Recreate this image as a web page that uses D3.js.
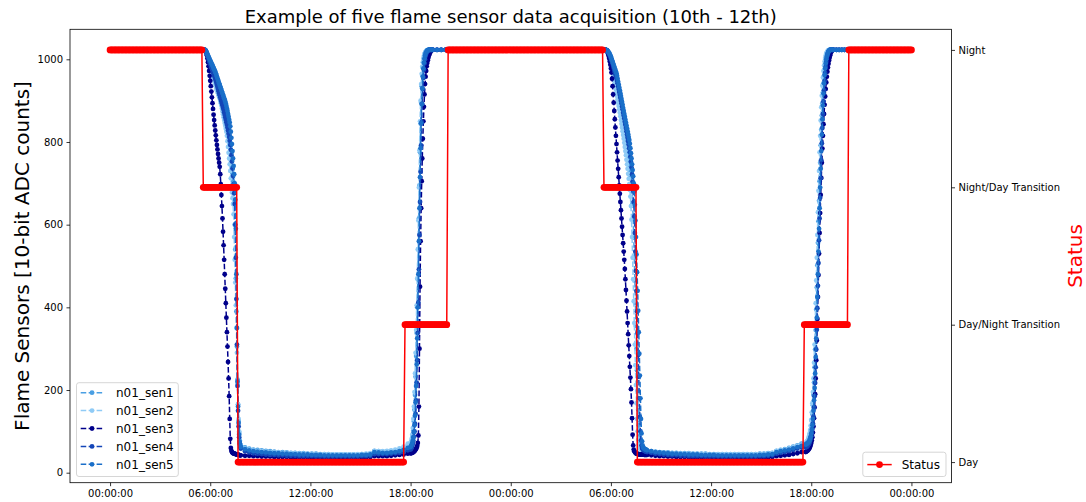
<!DOCTYPE html>
<html>
<head>
<meta charset="utf-8">
<script src="https://cdn.jsdelivr.net/npm/d3@7"></script>
<style>
  html, body { margin: 0; padding: 0; background: #ffffff; }
  svg { display: block; font-family: "DejaVu Sans", sans-serif; }
</style>
</head>
<body>
<svg id="chart" width="1086" height="502"></svg>
<script>
// Sample clock in minutes from 00:00 on the 10th (denser while the light level is changing)
const sampleMinutes = [].concat(
  d3.range(0, 340, 20),
  d3.range(340, 470, 2),
  d3.range(470, 1080, 15),
  d3.range(1080, 1160, 2),
  d3.range(1160, 1780, 15),
  d3.range(1780, 1930, 2),
  d3.range(1930, 2500, 15),
  d3.range(2500, 2600, 2),
  d3.range(2600, 2881, 10)
);

// Flame sensor readings (10-bit ADC counts), one value per sample time
const sen1 = [
  // 00:00-05:20
  1023,1023,1023,1023,1023,1023,1023,1023,1023,1023,
  1023,1023,1023,1023,1023,1023,1023,
  // 05:40-07:48
  1023,1022,1020,1017,1014,1010,1006,1002,998,994,
  989,984,979,975,971,967,963,959,955,951,
  946,941,936,931,926,921,916,911,906,901,
  896,891,886,881,876,870,864,858,852,846,
  840,832,824,815,806,796,785,772,758,742,
  724,705,684,650,600,540,470,390,305,225,
  165,125,96,78,68,
  // 07:50-17:50
  66,61,58,56,55,54,53,52,51,50,
  50,49,48,48,47,47,46,46,46,45,
  45,45,44,44,44,44,44,44,44,45,
  45,46,53,52,51,51,52,53,55,58,
  64,
  // 18:00-19:18
  64,68,72,78,88,102,124,152,188,232,
  282,338,400,468,540,615,695,775,845,895,
  935,962,980,993,1002,1009,1014,1017,1019,1021,
  1022,1022,1023,1023,1023,1023,1023,1023,1023,1023,
  // 19:20-05:35
  1023,1023,1023,1023,1023,1023,1023,1023,1023,1023,
  1023,1023,1023,1023,1023,1023,1023,1023,1023,1023,
  1023,1023,1023,1023,1023,1023,1023,1023,1023,1023,
  1023,1023,1023,1023,1023,1023,1023,1023,1023,1023,
  1023,1023,
  // 05:40-08:08
  1023,1023,1022,1021,1019,1016,1013,1010,1006,1002,
  998,993,988,983,978,972,966,960,954,948,
  942,935,928,921,914,907,900,893,885,877,
  869,861,853,845,837,829,820,811,802,793,
  784,774,764,753,742,730,716,700,680,652,
  615,570,520,465,410,355,300,248,198,152,
  115,88,72,64,60,58,57,56,55,55,
  54,54,53,53,53,
  // 08:10-17:25
  53,52,51,50,49,49,48,48,47,47,
  47,46,46,46,46,45,45,45,45,45,
  45,45,45,45,45,45,45,46,46,47,
  48,53,55,57,60,63,66,70,
  // 17:40-19:18
  70,71,72,74,76,79,83,88,94,102,
  112,125,142,163,188,218,255,298,345,395,
  448,502,556,608,658,705,750,792,830,864,
  894,920,942,960,975,987,997,1005,1011,1015,
  1018,1020,1022,1023,1023,1023,1023,1023,1023,1023,
  // 19:20-24:00
  1023,1023,1023,1023,1023,1023,1023,1023,1023,1023,
  1023,1023,1023,1023,1023,1023,1023,1023,1023,1023,
  1023,1023,1023,1023,1023,1023,1023,1023,1023
];

const sen2 = [
  // 00:00-05:20
  1023,1023,1023,1023,1023,1023,1023,1023,1023,1023,
  1023,1023,1023,1023,1023,1023,1023,
  // 05:40-07:48
  1023,1022,1020,1017,1013,1009,1004,999,994,989,
  984,979,974,969,964,959,954,949,944,939,
  934,929,925,921,917,913,909,905,900,894,
  888,881,874,867,860,853,846,839,832,825,
  815,802,788,774,760,746,730,712,694,678,
  664,650,625,570,515,460,405,350,290,215,
  165,130,100,78,68,
  // 07:50-17:50
  64,59,56,54,53,52,51,50,49,49,
  48,48,47,47,46,46,45,45,45,44,
  44,44,44,44,44,44,44,44,45,45,
  46,47,52,52,52,53,54,56,59,63,
  70,
  // 18:00-19:18
  72,76,82,92,108,130,160,195,240,290,
  345,405,470,540,610,690,780,850,900,940,
  965,982,993,1002,1008,1013,1016,1018,1020,1021,
  1022,1023,1023,1023,1023,1023,1023,1023,1023,1023,
  // 19:20-05:35
  1023,1023,1023,1023,1023,1023,1023,1023,1023,1023,
  1023,1023,1023,1023,1023,1023,1023,1023,1023,1023,
  1023,1023,1023,1023,1023,1023,1023,1023,1023,1023,
  1023,1023,1023,1023,1023,1023,1023,1023,1023,1023,
  1023,1023,
  // 05:40-08:08
  1023,1023,1022,1020,1017,1013,1009,1004,999,994,
  989,983,977,970,963,956,949,942,935,927,
  919,911,903,895,887,879,871,862,853,844,
  835,826,817,808,798,788,778,768,757,746,
  735,723,711,698,684,668,645,612,570,520,
  468,415,362,310,260,212,168,130,100,80,
  68,62,59,57,56,55,55,54,54,53,
  53,53,52,52,52,
  // 08:10-17:25
  52,51,50,49,48,48,47,47,46,46,
  46,45,45,45,45,44,44,44,44,44,
  44,44,44,44,44,44,44,45,45,46,
  47,52,54,56,59,62,65,68,
  // 17:40-19:18
  72,73,75,77,80,84,89,95,103,114,
  128,146,168,195,228,266,310,358,410,465,
  520,575,630,682,730,775,815,852,884,912,
  936,956,972,985,995,1003,1009,1014,1017,1019,
  1021,1022,1023,1023,1023,1023,1023,1023,1023,1023,
  // 19:20-24:00
  1023,1023,1023,1023,1023,1023,1023,1023,1023,1023,
  1023,1023,1023,1023,1023,1023,1023,1023,1023,1023,
  1023,1023,1023,1023,1023,1023,1023,1023,1023
];

const sen3 = [
  // 00:00-05:20
  1023,1023,1023,1023,1023,1023,1023,1023,1023,1023,
  1023,1023,1023,1023,1023,1023,1023,
  // 05:40-07:48
  1023,1022,1020,1016,1010,1002,993,983,972,960,
  948,935,922,908,894,880,866,853,840,828,
  816,804,793,782,771,760,750,740,722,698,
  672,645,615,583,550,515,480,445,410,375,
  340,305,268,228,185,130,82,60,53,50,
  48,47,47,46,46,45,45,44,44,44,
  43,43,43,42,42,
  // 07:50-17:50
  42,41,41,40,40,39,39,39,38,38,
  38,38,37,37,37,37,37,36,36,36,
  36,36,36,36,36,36,36,36,37,37,
  37,38,40,40,40,40,41,42,43,44,
  46,
  // 18:00-19:18
  47,47,48,48,49,50,51,52,54,56,
  58,61,65,72,90,160,300,450,560,640,
  705,760,808,850,885,915,940,958,972,983,
  991,998,1004,1009,1013,1016,1019,1021,1022,1023,
  // 19:20-05:35
  1023,1023,1023,1023,1023,1023,1023,1023,1023,1023,
  1023,1023,1023,1023,1023,1023,1023,1023,1023,1023,
  1023,1023,1023,1023,1023,1023,1023,1023,1023,1023,
  1023,1023,1023,1023,1023,1023,1023,1023,1023,1023,
  1023,1023,
  // 05:40-08:08
  1023,1023,1022,1020,1017,1013,1008,1002,995,987,
  978,968,953,935,915,895,875,855,835,815,
  795,775,755,735,715,695,675,655,635,615,
  595,575,555,535,515,493,468,442,416,390,
  362,335,308,282,256,230,202,170,132,92,
  66,56,52,50,48,47,46,46,45,45,
  45,44,44,44,44,44,44,44,44,44,
  43,43,43,43,43,
  // 08:10-17:25
  43,42,41,40,40,39,39,38,38,38,
  37,37,37,37,36,36,36,36,36,36,
  36,36,36,36,36,36,36,37,37,37,
  38,40,41,42,43,45,47,50,
  // 17:40-19:18
  50,51,52,53,54,56,58,60,63,67,
  72,78,86,97,112,132,158,190,228,272,
  320,372,425,478,530,580,628,672,713,750,
  784,815,843,868,890,910,928,944,958,970,
  980,989,997,1004,1010,1015,1018,1021,1022,1023,
  // 19:20-24:00
  1023,1023,1023,1023,1023,1023,1023,1023,1023,1023,
  1023,1023,1023,1023,1023,1023,1023,1023,1023,1023,
  1023,1023,1023,1023,1023,1023,1023,1023,1023
];

const sen4 = [
  // 00:00-05:20
  1023,1023,1023,1023,1023,1023,1023,1023,1023,1023,
  1023,1023,1023,1023,1023,1023,1023,
  // 05:40-07:48
  1023,1022,1020,1017,1013,1009,1005,1001,997,993,
  989,985,981,977,973,969,965,961,957,953,
  948,943,938,933,928,923,918,913,908,903,
  898,893,888,883,878,872,866,860,854,848,
  842,835,828,820,812,803,793,781,768,753,
  736,718,698,676,650,600,520,420,310,210,
  150,112,86,70,62,
  // 07:50-17:50
  58,52,49,47,46,45,44,43,43,42,
  42,41,41,41,40,40,40,40,39,39,
  39,39,39,39,39,39,39,39,39,40,
  40,41,45,45,45,45,46,47,48,50,
  54,
  // 18:00-19:18
  56,58,61,65,70,77,87,100,118,142,
  175,218,272,338,412,492,575,655,728,792,
  848,892,928,955,975,990,1000,1008,1013,1017,
  1019,1021,1022,1023,1023,1023,1023,1023,1023,1023,
  // 19:20-05:35
  1023,1023,1023,1023,1023,1023,1023,1023,1023,1023,
  1023,1023,1023,1023,1023,1023,1023,1023,1023,1023,
  1023,1023,1023,1023,1023,1023,1023,1023,1023,1023,
  1023,1023,1023,1023,1023,1023,1023,1023,1023,1023,
  1023,1023,
  // 05:40-08:08
  1023,1023,1022,1021,1019,1017,1015,1012,1009,1006,
  1002,998,994,989,984,979,974,969,964,959,
  954,948,942,935,928,921,914,907,900,893,
  886,879,871,864,857,849,842,834,826,818,
  810,802,794,785,775,764,752,738,722,704,
  682,655,620,580,535,488,440,390,338,285,
  232,180,135,100,78,66,60,57,55,54,
  53,52,52,51,51,
  // 08:10-17:25
  50,48,46,45,44,43,42,42,41,41,
  40,40,40,40,39,39,39,39,39,39,
  39,39,39,39,39,39,39,40,40,41,
  42,46,48,50,52,55,58,61,
  // 17:40-19:18
  61,62,63,64,66,68,70,73,77,82,
  88,96,106,119,136,158,185,217,255,298,
  346,398,452,507,562,615,665,712,756,797,
  834,868,898,925,948,967,982,994,1003,1010,
  1015,1018,1020,1022,1023,1023,1023,1023,1023,1023,
  // 19:20-24:00
  1023,1023,1023,1023,1023,1023,1023,1023,1023,1023,
  1023,1023,1023,1023,1023,1023,1023,1023,1023,1023,
  1023,1023,1023,1023,1023,1023,1023,1023,1023
];

const sen5 = [
  // 00:00-05:20
  1023,1023,1023,1023,1023,1023,1023,1023,1023,1023,
  1023,1023,1023,1023,1023,1023,1023,
  // 05:40-07:48
  1023,1022,1020,1018,1015,1012,1009,1006,1003,1000,
  997,994,991,988,985,982,979,976,973,970,
  966,962,958,954,950,946,942,938,934,930,
  926,922,918,914,910,906,902,898,893,887,
  881,875,868,861,854,847,838,825,810,795,
  778,760,742,722,700,660,590,480,350,220,
  160,120,92,75,66,
  // 07:50-17:50
  62,57,54,52,51,50,49,48,47,47,
  46,46,45,45,44,44,44,43,43,43,
  42,42,42,42,42,42,42,42,42,43,
  43,44,50,49,48,48,49,50,52,55,
  60,
  // 18:00-19:18
  62,65,68,72,78,86,98,115,138,170,
  210,262,325,400,480,560,640,715,785,845,
  892,930,958,978,992,1002,1009,1014,1017,1019,
  1021,1022,1022,1023,1023,1023,1023,1023,1023,1023,
  // 19:20-05:35
  1023,1023,1023,1023,1023,1023,1023,1023,1023,1023,
  1023,1023,1023,1023,1023,1023,1023,1023,1023,1023,
  1023,1023,1023,1023,1023,1023,1023,1023,1023,1023,
  1023,1023,1023,1023,1023,1023,1023,1023,1023,1023,
  1023,1023,
  // 05:40-08:08
  1023,1023,1022,1021,1020,1019,1017,1015,1012,1009,
  1006,1002,998,994,990,986,982,978,974,970,
  966,960,953,946,939,932,925,918,911,904,
  897,890,882,875,868,861,854,847,840,833,
  826,819,812,805,796,785,773,760,746,732,
  717,700,680,648,610,570,528,485,440,392,
  340,288,235,180,130,95,76,66,61,59,
  58,57,56,56,55,
  // 08:10-17:25
  54,52,50,49,48,47,46,46,45,45,
  44,44,44,43,43,43,43,42,42,42,
  42,42,42,42,42,42,42,43,43,44,
  45,50,52,54,56,59,62,65,
  // 17:40-19:18
  68,69,70,71,72,74,76,79,83,88,
  95,104,115,130,150,175,205,240,280,325,
  375,425,480,535,590,640,690,735,778,818,
  855,888,917,942,962,978,990,1000,1007,1012,
  1016,1019,1021,1022,1023,1023,1023,1023,1023,1023,
  // 19:20-24:00
  1023,1023,1023,1023,1023,1023,1023,1023,1023,1023,
  1023,1023,1023,1023,1023,1023,1023,1023,1023,1023,
  1023,1023,1023,1023,1023,1023,1023,1023,1023
];

const sensorNames = ["n01_sen1", "n01_sen2", "n01_sen3", "n01_sen4", "n01_sen5"];
const sensorColors = ["#4a9fe3", "#8fcbf6", "#00008b", "#1446b8", "#1a6fc9"];

// Status code every 5 minutes: 0 Day, 1 Day/Night Transition, 2 Night/Day Transition, 3 Night
const statusMinutes = d3.range(0, 2881, 5);
const statusLevel = [
  // 10th 00:00-04:55
  3,3,3,3,3,3,3,3,3,3,3,3,
  3,3,3,3,3,3,3,3,3,3,3,3,
  3,3,3,3,3,3,3,3,3,3,3,3,
  3,3,3,3,3,3,3,3,3,3,3,3,
  3,3,3,3,3,3,3,3,3,3,3,3,
  // 05:00
  3,3,3,3,3,3,3,2,2,2,2,2,
  // 06:00
  2,2,2,2,2,2,2,2,2,2,2,2,
  // 07:00
  2,2,2,2,2,2,2,2,0,0,0,0,
  // 08:00-16:55
  0,0,0,0,0,0,0,0,0,0,0,0,
  0,0,0,0,0,0,0,0,0,0,0,0,
  0,0,0,0,0,0,0,0,0,0,0,0,
  0,0,0,0,0,0,0,0,0,0,0,0,
  0,0,0,0,0,0,0,0,0,0,0,0,
  0,0,0,0,0,0,0,0,0,0,0,0,
  0,0,0,0,0,0,0,0,0,0,0,0,
  0,0,0,0,0,0,0,0,0,0,0,0,
  0,0,0,0,0,0,0,0,0,0,0,0,
  // 17:00
  0,0,0,0,0,0,0,0,1,1,1,1,
  // 18:00-19:55
  1,1,1,1,1,1,1,1,1,1,1,1,
  1,1,1,1,1,1,1,1,1,1,1,1,
  // 20:00
  1,1,1,3,3,3,3,3,3,3,3,3,
  // 21:00 - 11th 04:55
  3,3,3,3,3,3,3,3,3,3,3,3,
  3,3,3,3,3,3,3,3,3,3,3,3,
  3,3,3,3,3,3,3,3,3,3,3,3,
  3,3,3,3,3,3,3,3,3,3,3,3,
  3,3,3,3,3,3,3,3,3,3,3,3,
  3,3,3,3,3,3,3,3,3,3,3,3,
  3,3,3,3,3,3,3,3,3,3,3,3,
  3,3,3,3,3,3,3,3,3,3,3,3,
  // 11th 05:00
  3,3,3,3,3,3,3,2,2,2,2,2,
  // 06:00
  2,2,2,2,2,2,2,2,2,2,2,2,
  // 07:00
  2,2,2,2,2,2,2,0,0,0,0,0,
  // 08:00-16:55
  0,0,0,0,0,0,0,0,0,0,0,0,
  0,0,0,0,0,0,0,0,0,0,0,0,
  0,0,0,0,0,0,0,0,0,0,0,0,
  0,0,0,0,0,0,0,0,0,0,0,0,
  0,0,0,0,0,0,0,0,0,0,0,0,
  0,0,0,0,0,0,0,0,0,0,0,0,
  0,0,0,0,0,0,0,0,0,0,0,0,
  0,0,0,0,0,0,0,0,0,0,0,0,
  0,0,0,0,0,0,0,0,0,0,0,0,
  // 17:00
  0,0,0,0,0,0,0,1,1,1,1,1,
  // 18:00-19:55
  1,1,1,1,1,1,1,1,1,1,1,1,
  1,1,1,1,1,1,1,1,1,1,1,1,
  // 20:00
  1,1,1,3,3,3,3,3,3,3,3,3,
  // 21:00-23:55
  3,3,3,3,3,3,3,3,3,3,3,3,
  3,3,3,3,3,3,3,3,3,3,3,3,
  3,3,3,3,3,3,3,3,3,3,3,3,
  // 24:00
  3
];
const statusNames = ["Day", "Day/Night Transition", "Night/Day Transition", "Night"];

const timeTicks = [0, 360, 720, 1080, 1440, 1800, 2160, 2520, 2880];
const timeTickLabels = ["00:00:00", "06:00:00", "12:00:00", "18:00:00", "00:00:00",
                        "06:00:00", "12:00:00", "18:00:00", "00:00:00"];
const countTicks = [0, 200, 400, 600, 800, 1000];

// ---------------------------------------------------------------------------
const svg = d3.select("#chart");
const box = { left: 70, right: 951.5, top: 29.3, bottom: 482.7 };
const FONT = "DejaVu Sans, sans-serif";

const x = d3.scaleLinear().domain([-144, 3024]).range([box.left, box.right]);
const y = d3.scaleLinear().domain([-24.2, 1072.6]).range([box.bottom, box.top]);
const yStatus = d3.scaleLinear().domain([-0.15, 3.15]).range([box.bottom, box.top]);

svg.append("rect").attr("width", 1086).attr("height", 502).attr("fill", "#ffffff");

svg.append("defs").append("clipPath").attr("id", "plot-area")
  .append("rect")
  .attr("x", box.left).attr("y", box.top)
  .attr("width", box.right - box.left).attr("height", box.bottom - box.top);

const plot = svg.append("g").attr("clip-path", "url(#plot-area)");

// Sensor traces: dashed line with round markers, drawn in series order
const sensorValues = [sen1, sen2, sen3, sen4, sen5];
const series = sensorValues.map((vals, k) => ({
  name: sensorNames[k],
  color: sensorColors[k],
  points: d3.zip(sampleMinutes, vals)
}));

const line = d3.line().x(d => x(d[0])).y(d => y(d[1]));

series.forEach(s => {
  const g = plot.append("g");
  g.append("path")
    .attr("d", line(s.points))
    .attr("fill", "none")
    .attr("stroke", s.color)
    .attr("stroke-width", 1.5)
    .attr("stroke-dasharray", "5.55,2.4");
  g.selectAll("circle").data(s.points).join("circle")
    .attr("cx", d => x(d[0]))
    .attr("cy", d => y(d[1]))
    .attr("r", 2.4)
    .attr("fill", s.color);
});

// Status trace on the right-hand axis
const statusPoints = d3.zip(statusMinutes, statusLevel);
const statusLine = d3.line().x(d => x(d[0])).y(d => yStatus(d[1]));
const sg = plot.append("g");
sg.append("path")
  .attr("d", statusLine(statusPoints))
  .attr("fill", "none")
  .attr("stroke", "#ff0000")
  .attr("stroke-width", 1.5);
sg.selectAll("circle").data(statusPoints).join("circle")
  .attr("cx", d => x(d[0]))
  .attr("cy", d => yStatus(d[1]))
  .attr("r", 3.4)
  .attr("fill", "#ff0000");

// Axes
function styleAxis(g) {
  g.select(".domain").remove();
  g.selectAll("line").attr("stroke", "#000").attr("stroke-width", 0.8);
  g.selectAll("text").attr("fill", "#000").style("font-family", FONT).style("font-size", "10px");
}

svg.append("g")
  .attr("transform", `translate(${box.left},0)`)
  .call(d3.axisLeft(y).tickValues(countTicks).tickFormat(d3.format("d"))
    .tickSize(3.5).tickPadding(3.5))
  .call(styleAxis);

svg.append("g")
  .attr("transform", `translate(${box.right},0)`)
  .call(d3.axisRight(yStatus).tickValues([0, 1, 2, 3]).tickFormat(i => statusNames[i])
    .tickSize(3.5).tickPadding(3.5))
  .call(styleAxis);

svg.append("g")
  .attr("transform", `translate(0,${box.bottom})`)
  .call(d3.axisBottom(x).tickValues(timeTicks).tickFormat((d, i) => timeTickLabels[i])
    .tickSize(3.5).tickPadding(3.5))
  .call(styleAxis);

// Frame
svg.append("rect")
  .attr("x", box.left).attr("y", box.top)
  .attr("width", box.right - box.left).attr("height", box.bottom - box.top)
  .attr("fill", "none").attr("stroke", "#000").attr("stroke-width", 0.8);

// Titles
svg.append("text")
  .attr("x", (box.left + box.right) / 2).attr("y", 23)
  .attr("text-anchor", "middle")
  .style("font-family", FONT).style("font-size", "18px")
  .attr("fill", "#000")
  .text("Example of five flame sensor data acquisition (10th - 12th)");

svg.append("text")
  .attr("transform", `translate(22,${(box.top + box.bottom) / 2}) rotate(-90)`)
  .attr("text-anchor", "middle").attr("dy", "0.35em")
  .style("font-family", FONT).style("font-size", "20px")
  .attr("fill", "#000")
  .text("Flame Sensors [10-bit ADC counts]");

svg.append("text")
  .attr("transform", `translate(1075,${(box.top + box.bottom) / 2}) rotate(-90)`)
  .attr("text-anchor", "middle").attr("dy", "0.35em")
  .style("font-family", FONT).style("font-size", "20px")
  .attr("fill", "#ff0000")
  .text("Status");

// Sensor legend (lower left)
const lg = svg.append("g");
lg.append("rect")
  .attr("x", 76.5).attr("y", 382.7).attr("width", 101.8).attr("height", 93.8)
  .attr("rx", 2.5)
  .attr("fill", "#ffffff").attr("fill-opacity", 0.8)
  .attr("stroke", "#cccccc").attr("stroke-opacity", 0.8).attr("stroke-width", 1);
series.forEach((s, i) => {
  const cy = 392.7 + i * 17.9;
  lg.append("line")
    .attr("x1", 80.7).attr("x2", 103.3).attr("y1", cy).attr("y2", cy)
    .attr("stroke", s.color).attr("stroke-width", 1.5).attr("stroke-dasharray", "5.55,2.4");
  lg.append("circle").attr("cx", 92).attr("cy", cy).attr("r", 2.4).attr("fill", s.color);
  lg.append("text")
    .attr("x", 116).attr("y", cy).attr("dy", "0.35em")
    .style("font-family", FONT).style("font-size", "12px").attr("fill", "#000")
    .text(s.name);
});

// Status legend (lower right)
const sl = svg.append("g");
sl.append("rect")
  .attr("x", 862.8).attr("y", 452.2).attr("width", 83.2).attr("height", 24.3)
  .attr("rx", 2.5)
  .attr("fill", "#ffffff").attr("fill-opacity", 0.8)
  .attr("stroke", "#cccccc").attr("stroke-opacity", 0.8).attr("stroke-width", 1);
sl.append("line")
  .attr("x1", 867.3).attr("x2", 891.7).attr("y1", 464.6).attr("y2", 464.6)
  .attr("stroke", "#ff0000").attr("stroke-width", 1.5);
sl.append("circle").attr("cx", 879.5).attr("cy", 464.6).attr("r", 3.4).attr("fill", "#ff0000");
sl.append("text")
  .attr("x", 901.7).attr("y", 464.6).attr("dy", "0.35em")
  .style("font-family", FONT).style("font-size", "12px").attr("fill", "#000")
  .text("Status");
</script>
</body>
</html>
